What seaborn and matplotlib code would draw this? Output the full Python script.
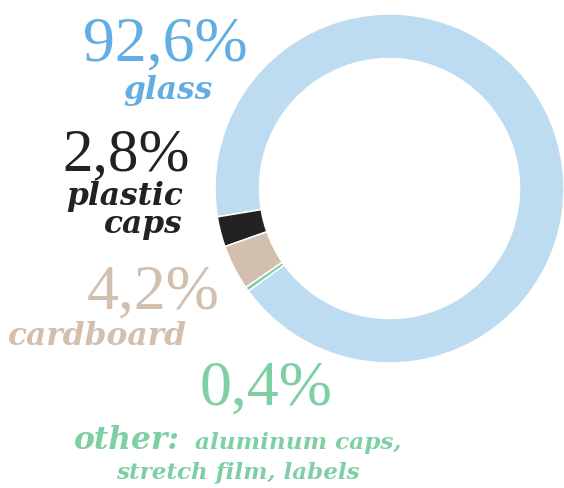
import matplotlib
matplotlib.use("Agg")
import matplotlib.pyplot as plt
import seaborn as sns

# packaging material shares, %
materials = ["glass", "plastic caps", "cardboard", "other"]
shares = [92.6, 2.8, 4.2, 0.4]
ring_colors = ["#bddcf1", "#222222", "#d3bfae", "#7fcfa5"]
text_colors = ["#62aee3", "#222222", "#d3bfae", "#7fcfa5"]

sns.set_style("white")
plt.rcParams["font.family"] = ["Liberation Serif", "DejaVu Serif"]

W, H = 564, 488
fig = plt.figure(figsize=(W / 100, H / 100), dpi=100)

# donut: centre (389.5, 188.5) px, radius 174.5 px
cx, cy, r = 389.5, 188.5, 174.5
ax = fig.add_axes([(cx - r) / W, (H - cy - r) / H, 2 * r / W, 2 * r / H])
ax.pie(shares, colors=sns.color_palette(ring_colors), startangle=216,
       counterclock=True, radius=1,
       wedgeprops=dict(width=0.255, edgecolor="white", linewidth=1.1))
ax.set_xlim(-1, 1)
ax.set_ylim(-1, 1)
ax.set_aspect("equal")
ax.axis("off")


def pct(v):
    return f"{v:.1f}%".replace(".", ",")


def put(x, y, s, color, size, ha="right", bold=False):
    if bold:
        fig.text(x / W, 1 - y / H, s, color=color, fontsize=size, ha=ha,
                 va="baseline", fontweight="bold", fontstyle="italic",
                 family=["DejaVu Serif"])
    else:
        fig.text(x / W, 1 - y / H, s, color=color, fontsize=size, ha=ha,
                 va="baseline")


# glass
put(248, 61, pct(shares[0]), text_colors[0], 46)
put(213, 99, "glass", text_colors[0], 22.5, bold=True)
# plastic caps
put(190, 170, pct(shares[1]), text_colors[1], 44)
put(183, 205, "plastic", text_colors[1], 22.5, bold=True)
put(183, 233, "caps", text_colors[1], 22.5, bold=True)
# cardboard
put(220, 309, pct(shares[2]), text_colors[2], 46)
put(187, 345, "cardboard", text_colors[2], 22.5, bold=True)
# other
put(333, 405, pct(shares[3]), text_colors[3], 46)
put(180, 449, "other:", text_colors[3], 22.5, bold=True)
put(195, 449, "aluminum caps,", text_colors[3], 16.7, ha="left", bold=True)
put(360, 479, "stretch film, labels", text_colors[3], 16.6, bold=True)

fig.savefig("out.png", dpi=100)
plt.close(fig)
